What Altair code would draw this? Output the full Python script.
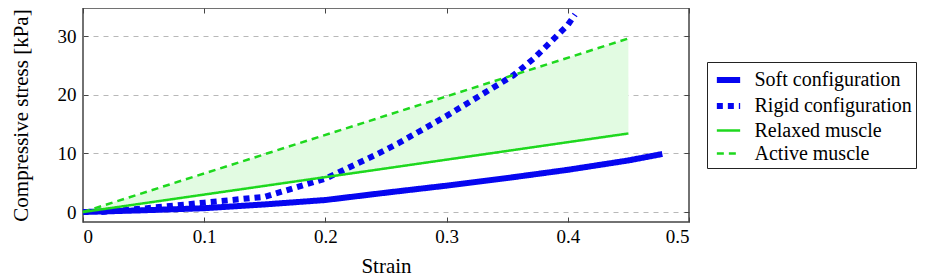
import altair as alt
import pandas as pd

series_names = ["Soft configuration", "Rigid configuration", "Relaxed muscle", "Active muscle"]

soft_strain = [0.0, 0.05, 0.1, 0.15, 0.2, 0.25, 0.3, 0.35, 0.4, 0.45, 0.478]
soft_stress = [0.0, 0.3, 0.65, 1.3, 2.05, 3.3, 4.5, 5.8, 7.2, 8.8, 9.9]

rigid_strain = [0.015, 0.05, 0.1, 0.15, 0.2, 0.24, 0.26, 0.3, 0.355, 0.372, 0.4, 0.406]
rigid_stress = [0.0, 0.6, 1.6, 2.6, 5.7, 9.6, 11.7, 16.4, 23.3, 26.2, 31.9, 33.7]

relaxed_strain = [0.0, 0.45]
relaxed_stress = [0.0, 13.4]

active_strain = [0.0, 0.45]
active_stress = [0.0, 29.6]

x_ticks = [0, 0.1, 0.2, 0.3, 0.4, 0.5]
y_ticks = [0, 10, 20, 30]

colors = ["#0606f0", "#0606f0", "#1ed81e", "#1ed81e"]
dashes = [[1, 0], [6, 5], [1, 0], [7, 5]]
widths = [6, 6, 2.5, 2.5]

rows = []
for name, xs, ys in [
    (series_names[0], soft_strain, soft_stress),
    (series_names[1], rigid_strain, rigid_stress),
    (series_names[2], relaxed_strain, relaxed_stress),
    (series_names[3], active_strain, active_stress),
]:
    for i, (a, b) in enumerate(zip(xs, ys)):
        rows.append({"series": name, "strain": a, "stress": b, "order": i})
lines_df = pd.DataFrame(rows)

band_df = pd.DataFrame({"strain": relaxed_strain, "low": relaxed_stress, "high": active_stress})

FONT = "Liberation Serif, Times New Roman, DejaVu Serif, serif"
xscale = alt.Scale(domain=[0, 0.5], nice=False, zero=False)
yscale = alt.Scale(domain=[-1.7, 34.8], nice=False, zero=False)

band = alt.Chart(band_df).mark_area(color="#e2fbe2", opacity=1).encode(
    x=alt.X("strain:Q", scale=xscale, axis=alt.Axis(
        orient="bottom", values=x_ticks, domain=False, offset=-5, tickSize=5,
        tickColor="#444444", tickWidth=1, grid=False,
        labelFont=FONT, labelFontSize=19, labelColor="black", labelPadding=5,
        labelExpr="datum.value == 0 ? '0' : format(datum.value, '.1f')",
        title="Strain", titleFont=FONT, titleFontSize=21, titleFontWeight="normal",
        titleColor="black", titlePadding=9)),
    y=alt.Y("low:Q", scale=yscale, axis=alt.Axis(
        orient="left", values=y_ticks, domain=False, offset=-5, tickSize=5,
        tickColor="#444444", tickWidth=1, grid=True, gridDash=[5, 5],
        gridColor="#b8b8b8", gridWidth=1,
        labelFont=FONT, labelFontSize=19, labelColor="black", labelPadding=7,
        title="Compressive stress [kPa]", titleFont=FONT, titleFontSize=21,
        titleFontWeight="normal", titleColor="black", titlePadding=26)),
    y2="high:Q",
)

frame_axes = alt.Chart(band_df).mark_point(opacity=0).encode(
    x=alt.X("strain:Q", scale=xscale, axis=alt.Axis(
        orient="top", values=x_ticks, domain=False, offset=-5, tickSize=5,
        tickColor="#444444", tickWidth=1, labels=False, grid=False, title="")),
    y=alt.Y("low:Q", scale=yscale, axis=alt.Axis(
        orient="right", values=y_ticks, domain=False, offset=-5, tickSize=5,
        tickColor="#444444", tickWidth=1, labels=False, grid=False, title="")),
)

lines = alt.Chart(lines_df).mark_line(strokeCap="butt", strokeJoin="miter").encode(
    x=alt.X("strain:Q", scale=xscale, axis=None),
    y=alt.Y("stress:Q", scale=yscale, axis=None),
    order="order:Q",
    color=alt.Color("series:N", title=None,
                    scale=alt.Scale(domain=series_names, range=colors),
                    sort=series_names),
    strokeDash=alt.StrokeDash("series:N", title=None,
                              scale=alt.Scale(domain=series_names, range=dashes),
                              sort=series_names),
    strokeWidth=alt.StrokeWidth("series:N", title=None,
                                scale=alt.Scale(type="ordinal", domain=series_names, range=widths),
                                sort=series_names),
)

chart = alt.layer(band, frame_axes, lines).resolve_axis(
    x="independent", y="independent"
).properties(
    width=606, height=214,
    autosize=alt.AutoSizeParams(type="none"),
    padding={"left": 75, "top": 0, "right": 238, "bottom": 55},
).configure(
    font=FONT
).configure_view(
    stroke="#444444", strokeWidth=1.5
).configure_legend(
    orient="none", legendX=624, legendY=54,
    strokeColor="#222222", padding=4, fillColor="white",
    symbolType="M-1.06,0H1.06", symbolSize=484, symbolOffset=3.5,
    labelFont=FONT, labelFontSize=20,
    labelColor="black", labelOffset=12, labelLimit=300, rowPadding=0,
    symbolStrokeColor="#0606f0",
)

chart.save("out.html", embed_options={"renderer": "svg", "actions": False})
